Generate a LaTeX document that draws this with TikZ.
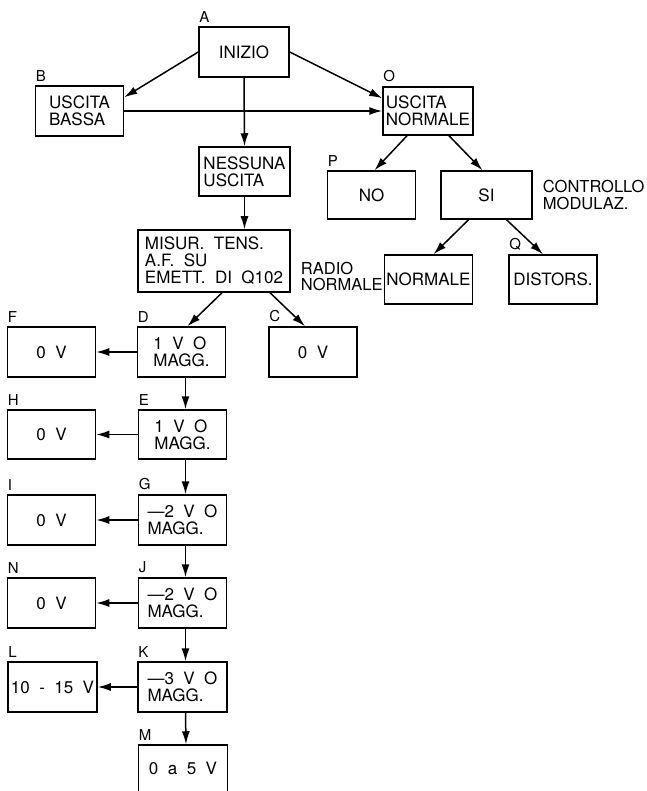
\documentclass[tikz,border=0pt]{standalone}
\usepackage{fontspec}
\setmainfont{TeX Gyre Heros}
\usetikzlibrary{arrows.meta,positioning}

\begin{document}
\begin{tikzpicture}[x=1pt,y=-1pt,
  box/.style={draw,line width=1.5pt,minimum width=88pt,minimum height=50pt,align=left,inner sep=2pt,font=\fontsize{17}{17}\selectfont},
  tag/.style={anchor=south west,inner sep=1pt,yshift=3pt,font=\fontsize{15}{15}\selectfont},
  note/.style={align=left,inner sep=1pt,font=\fontsize{16.5}{16.5}\selectfont},
  arrow/.style={-{Latex[length=13pt,width=8pt]},line width=1.5pt}
]
\useasboundingbox (0,0) rectangle (646,791);
\node[box,minimum width=90pt] (inizio) at (244,52) {INIZIO};
\node[box] (bassa) at (79.5,111) {USCITA\\BASSA};
\node[box,minimum width=91pt,minimum height=49pt] (nessuna) at (244.5,171.5) {NESSUNA\\USCITA};
\node[box,minimum width=90pt,minimum height=48pt,inner sep=1pt] (uscnorm) at (428,111) {USCITA\\NORMALE};
\node[box,minimum height=48pt] (no) at (371.5,195) {NO};
\node[box,minimum width=91pt,minimum height=48pt] (si) at (486.5,195) {SI};
\node[box,minimum height=49pt,inner sep=1pt] (modnorm) at (428.5,279.5) {NORMALE};
\node[box,minimum height=49pt] (distors) at (553,279.5) {DISTORS.};
\node[box,minimum width=152pt,minimum height=62pt] (misur) at (214,261) {MISUR.\ \ TENS.\\A.F.\ \ SU\\EMETT.\ \ DI\ \ Q102};
\node[box] (d) at (181.5,352) {1\ \ V\ \ O\\MAGG.};
\node[box] (c) at (313,352) {0\ \ V};
\node[box] (f) at (51.5,352) {0\ \ V};
\node[box,minimum height=49pt] (e) at (182.5,434.5) {1\ \ V\ \ O\\MAGG.};
\node[box,minimum height=49pt] (h) at (51.5,434.5) {0\ \ V};
\node[box] (g) at (182.5,520) {\textemdash2\ \ V\ \ O\\MAGG.};
\node[box] (i) at (51.5,520) {0\ \ V};
\node[box] (j) at (182.5,603) {\textemdash2\ \ V\ \ O\\MAGG.};
\node[box] (n) at (51.5,603) {0\ \ V};
\node[box,minimum width=89pt] (k) at (182.5,687) {\textemdash3\ \ V\ \ O\\MAGG.};
\node[box,minimum width=89pt] (l) at (52.5,687) {10\ \ -\ \ 15\ \ V};
\node[box,minimum width=89pt,text depth=10pt,minimum height=56pt] (m) at (183,773) {0\ \ a\ \ 5\ \ V};
\node[tag] (tA) at (inizio.north west) {A};
\node[tag] (tB) at (bassa.north west) {B};
\node[tag] (tO) at (uscnorm.north west) {O};
\node[tag] (tP) at (no.north west) {P};
\node[tag] (tQ) at (distors.north west) {Q};
\node[tag] (tD) at (d.north west) {D};
\node[tag] (tC) at (c.north west) {C};
\node[tag] (tF) at (f.north west) {F};
\node[tag] (tE) at (e.north west) {E};
\node[tag] (tH) at (h.north west) {H};
\node[tag] (tG) at (g.north west) {G};
\node[tag] (tI) at (i.north west) {I};
\node[tag] (tJ) at (j.north west) {J};
\node[tag] (tN) at (n.north west) {N};
\node[tag] (tK) at (k.north west) {K};
\node[tag] (tL) at (l.north west) {L};
\node[tag] (tM) at (m.north west) {M};
\node[note,anchor=west] (ctrl) at ([xshift=9pt]si.east) {CONTROLLO\\MODULAZ.};
\node[note,anchor=east] (radio) at ([yshift=3pt]modnorm.west) {RADIO\\NORMALE};
\draw[arrow] (inizio.west) -- ([yshift=-12pt]bassa.north east);
\draw[arrow] (inizio.east) -- ([yshift=-12pt]uscnorm.north west);
\draw[arrow] (bassa.east) -- (uscnorm.west);
\draw[arrow] (inizio.south) -- (nessuna.north);
\draw[arrow] (nessuna.south) -- (nessuna.south |- misur.north);
\draw[arrow] ([xshift=-21pt]uscnorm.south) -- ([xshift=3pt]no.north);
\draw[arrow] ([xshift=21pt]uscnorm.south) -- ([xshift=-4pt]si.north);
\draw[arrow] ([xshift=-18pt]si.south) -- ([xshift=5pt]modnorm.north);
\draw[arrow] ([xshift=20pt]si.south) -- ([xshift=-10pt]distors.north);
\draw[arrow] ([xshift=8pt]misur.south) -- ([xshift=6pt]d.north);
\draw[arrow] ([xshift=56pt]misur.south) -- ([xshift=-8pt]c.north);
\draw[arrow] (d.west) -- (f.east);
\draw[arrow] ([xshift=4pt]d.south) -- ([xshift=3pt]e.north);
\draw[arrow] (e.west) -- (h.east);
\draw[arrow] ([xshift=3pt]e.south) -- ([xshift=3pt]g.north);
\draw[arrow] (g.west) -- (i.east);
\draw[arrow] ([xshift=3pt]g.south) -- ([xshift=3pt]j.north);
\draw[arrow] (j.west) -- (n.east);
\draw[arrow] ([xshift=3pt]j.south) -- ([xshift=3pt]k.north);
\draw[arrow] (k.west) -- (l.east);
\draw[arrow] ([xshift=3pt]k.south) -- ([xshift=3pt]m.north);
\end{tikzpicture}
\end{document}
